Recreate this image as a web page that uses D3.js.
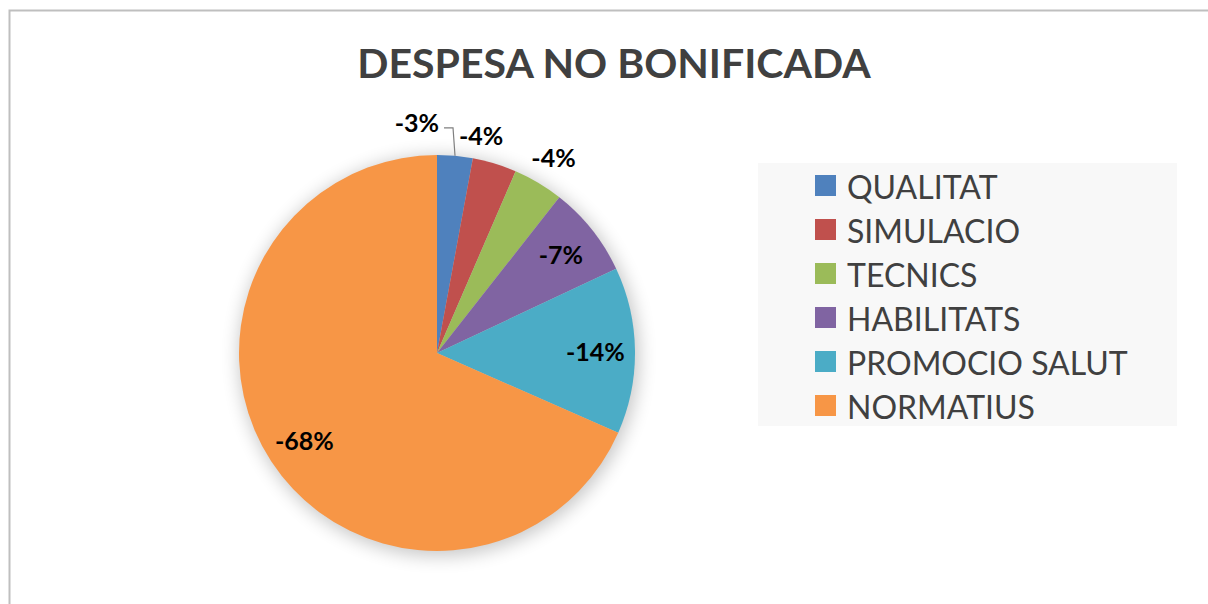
<!DOCTYPE html>
<html>
<head>
<meta charset="utf-8">
<script src="https://cdn.jsdelivr.net/npm/d3@7"></script>
<style>
  body { margin: 0; background: #fff; }
  svg { display: block; }
</style>
</head>
<body>
<div id="chart"></div>
<script>
// data (percent of total, negative spend)
const categories = ["QUALITAT", "SIMULACIO", "TECNICS", "HABILITATS", "PROMOCIO SALUT", "NORMATIUS"];
const values = [-2.9, -3.6, -4.1, -7.4, -13.6, -68.4];
const colors = ["#4F81BD", "#C0504D", "#9BBB59", "#8064A2", "#4BACC6", "#F79646"];
const title = "DESPESA NO BONIFICADA";

const W = 1208, H = 604;
const svg = d3.select("#chart").append("svg").attr("width", W).attr("height", H);

// chart area frame (bottom/right run off the page)
svg.append("path")
  .attr("d", `M9.5,${H} V10.5 H${W}`)
  .attr("fill", "none").attr("stroke", "#bfbfbf").attr("stroke-width", 2);

svg.append("text")
  .attr("x", 614).attr("y", 78)
  .attr("text-anchor", "middle")
  .style("font-family", "Lato, 'Open Sans', sans-serif")
  .style("font-weight", "bold").style("font-size", "41px")
  .attr("fill", "#404040")
  .text(title);

const cx = 437, cy = 353, R = 198;

const defs = svg.append("defs");
const f = defs.append("filter").attr("id", "glow").attr("x", "-30%").attr("y", "-30%").attr("width", "160%").attr("height", "160%");
f.append("feGaussianBlur").attr("stdDeviation", 9);

const g = svg.append("g").attr("transform", `translate(${cx},${cy})`);

// soft shadow round the pie
g.append("circle").attr("cx", 2).attr("cy", 3).attr("r", R + 2)
  .attr("fill", "#000").attr("opacity", 0.22).attr("filter", "url(#glow)");

const pie = d3.pie().sort(null).value(d => Math.abs(d.v));
const data = pie(categories.map((c, i) => ({ c, v: values[i], col: colors[i] })));

const arc = d3.arc().innerRadius(0).outerRadius(R);
g.selectAll("path.slice")
  .data(data)
  .join("path")
  .attr("class", "slice")
  .attr("d", arc)
  .attr("fill", d => d.data.col);

// labels: big slices inside, small ones outside
const inArc = d3.arc().innerRadius(R * 0.8).outerRadius(R * 0.8);
const outR = R * 1.15;
const fmt = v => Math.round(v) + "%";

const labels = data.map(d => {
  const mid = (d.startAngle + d.endAngle) / 2;
  const inside = (d.endAngle - d.startAngle) > 0.4;
  let x, y;
  if (inside) {
    [x, y] = inArc.centroid(d);
  } else {
    x = Math.sin(mid) * outR;
    y = -Math.cos(mid) * outR;
  }
  return { d, mid, inside, x, y, leader: false };
});

const lt = g.selectAll("text.lbl")
  .data(labels)
  .join("text")
  .attr("class", "lbl")
  .attr("text-anchor", "middle")
  .attr("dominant-baseline", "central")
  .style("font-family", "Lato, 'Open Sans', sans-serif")
  .style("font-weight", "bold").style("font-size", "25px")
  .attr("fill", "#000")
  .text(d => fmt(d.d.data.v));

// overlapping outside labels: move the earlier one left of its slice with a leader line
const widths = [];
lt.each(function (d, i) { widths[i] = this.getComputedTextLength(); });
for (let i = labels.length - 2; i >= 0; i--) {
  const a = labels[i], b = labels[i + 1];
  if (a.inside || b.inside) continue;
  if (Math.abs(a.x - b.x) < (widths[i] + widths[i + 1]) / 2 + 4 && Math.abs(a.y - b.y) < 18) {
    const ex = Math.sin(a.mid) * R, ey = -Math.cos(a.mid) * R;
    a.x = ex - 16 - widths[i] / 2;
    a.y = ey - 34;
    b.x = Math.min(b.x, ex + 4 + widths[i + 1] / 2);
    a.leader = true;
  }
}
lt.attr("x", d => d.x).attr("y", d => d.y);

g.selectAll("path.leader")
  .data(labels.filter(d => d.leader))
  .join("path")
  .attr("class", "leader")
  .attr("fill", "none").attr("stroke", "#7f7f7f").attr("stroke-width", 1.2)
  .attr("d", d => {
    const i = labels.indexOf(d);
    const x0 = d.x + widths[i] / 2 + 5, y0 = d.y + 6;
    const ex = Math.sin(d.mid) * R, ey = -Math.cos(d.mid) * R;
    return `M${x0},${y0} H${ex - 2} L${ex},${ey}`;
  });

// legend
const lg = svg.append("g");
lg.append("rect").attr("x", 758).attr("y", 163).attr("width", 419).attr("height", 263).attr("fill", "#f8f8f8");
const rows = lg.selectAll("g.row")
  .data(categories)
  .join("g")
  .attr("class", "row")
  .attr("transform", (d, i) => `translate(815,${175 + i * 44})`);
rows.append("rect").attr("width", 21).attr("height", 21).attr("fill", (d, i) => colors[i]);
rows.append("text")
  .attr("x", 32).attr("y", 11)
  .attr("dominant-baseline", "central")
  .style("font-family", "Lato, 'Open Sans', sans-serif")
  .style("font-size", "32px")
  .attr("fill", "#404040")
  .text(d => d);
</script>
</body>
</html>
